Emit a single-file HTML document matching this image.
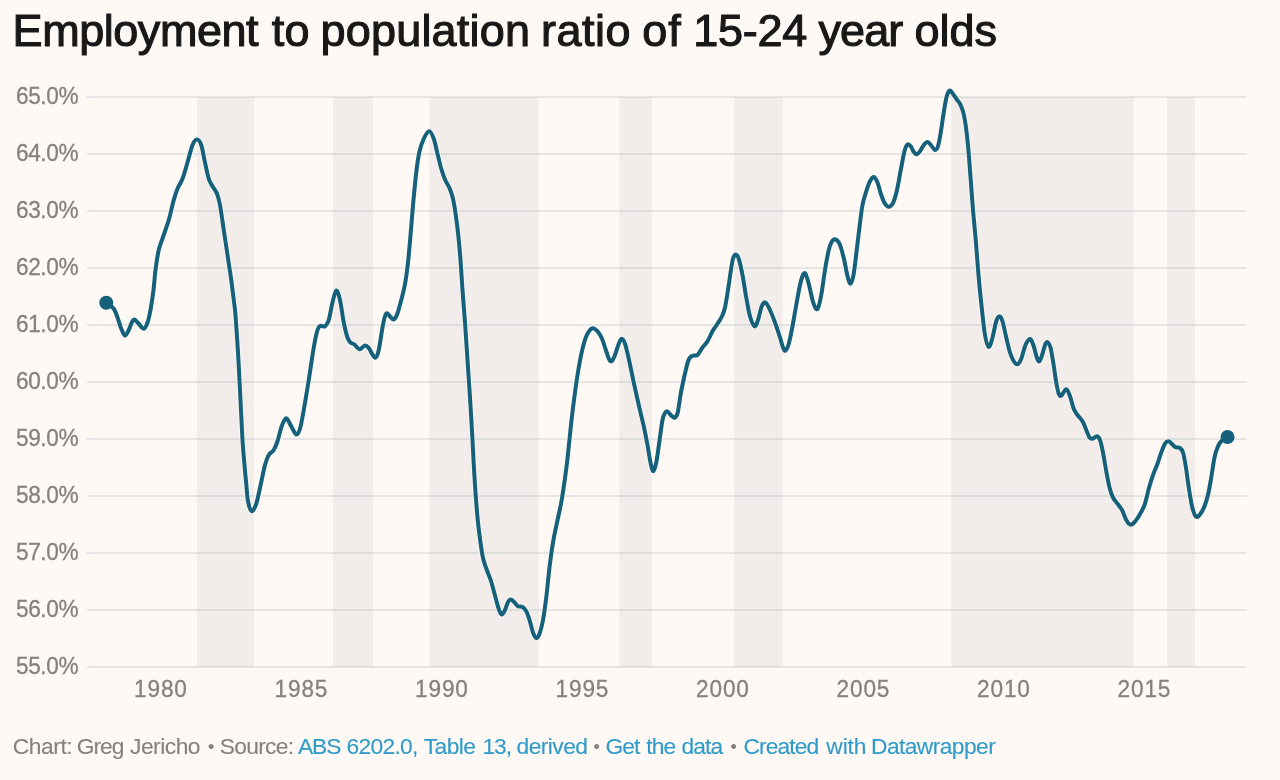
<!DOCTYPE html>
<html lang="en"><head><meta charset="utf-8"><title>Employment to population ratio of 15-24 year olds</title>
<style>
html,body{margin:0;padding:0}
body{width:1280px;height:780px;background:#fef9f5;position:relative;overflow:hidden;font-family:"Liberation Sans",sans-serif}
h1{position:absolute;left:0;top:4.6px;margin:0;font-weight:400;font-size:45.0px;line-height:52px;height:52px;width:1280px;color:#181818;-webkit-text-stroke:1.1px #181818}
h1 span,.foot span{position:absolute;top:0;white-space:pre}
.ax{font-family:"Liberation Sans",sans-serif;font-size:22.6px;fill:#848280;stroke:#848280;stroke-width:0.3px}
.foot{position:absolute;left:0;top:732.9px;margin:0;font-size:22.8px;line-height:26px;height:26px;width:1280px;color:#848280;-webkit-text-stroke:0.12px}
.foot .lk{color:#2f9bc9}
.foot .b{font-size:18px;top:1px}
</style></head><body>
<h1 id="title"><span style="left:12.60px;letter-spacing:-0.456px">Employment </span><span style="left:271.75px;letter-spacing:0.250px">to </span><span style="left:320.50px;letter-spacing:0.200px">population </span><span style="left:541.00px;letter-spacing:0.500px">ratio </span><span style="left:642.15px;letter-spacing:1.200px">of </span><span style="left:693.25px;letter-spacing:-0.250px">15-24 </span><span style="left:818.62px;letter-spacing:-1.000px">year </span><span style="left:914.50px;letter-spacing:0.000px">olds</span></h1>
<svg width="1280" height="780" viewBox="0 0 1280 780" style="position:absolute;left:0;top:0">
<rect x="197.00" y="97.00" width="57.00" height="570.00" fill="#f2edea"/>
<rect x="333.00" y="97.00" width="40.00" height="570.00" fill="#f2edea"/>
<rect x="429.25" y="97.00" width="109.50" height="570.00" fill="#f2edea"/>
<rect x="619.25" y="97.00" width="32.50" height="570.00" fill="#f2edea"/>
<rect x="734.25" y="97.00" width="48.50" height="570.00" fill="#f2edea"/>
<rect x="951.25" y="97.00" width="182.50" height="570.00" fill="#f2edea"/>
<rect x="1167.00" y="97.00" width="28.00" height="570.00" fill="#f2edea"/>
<rect x="87.00" y="96.00" width="1159.75" height="2" fill="rgba(150,170,178,0.25)"/>
<rect x="87.00" y="153.00" width="1159.75" height="2" fill="rgba(150,170,178,0.25)"/>
<rect x="87.00" y="210.00" width="1159.75" height="2" fill="rgba(150,170,178,0.25)"/>
<rect x="87.00" y="267.00" width="1159.75" height="2" fill="rgba(150,170,178,0.25)"/>
<rect x="87.00" y="324.00" width="1159.75" height="2" fill="rgba(150,170,178,0.25)"/>
<rect x="87.00" y="381.00" width="1159.75" height="2" fill="rgba(150,170,178,0.25)"/>
<rect x="87.00" y="438.00" width="1159.75" height="2" fill="rgba(150,170,178,0.25)"/>
<rect x="87.00" y="495.00" width="1159.75" height="2" fill="rgba(150,170,178,0.25)"/>
<rect x="87.00" y="552.00" width="1159.75" height="2" fill="rgba(150,170,178,0.25)"/>
<rect x="87.00" y="609.00" width="1159.75" height="2" fill="rgba(150,170,178,0.25)"/>
<rect x="87.00" y="666.00" width="1159.75" height="2" fill="rgba(150,170,178,0.25)"/>
<text transform="translate(16,104.45) scale(1,1.03)" class="ax" style="letter-spacing:-0.4px">65.0%</text>
<text transform="translate(16,161.45) scale(1,1.03)" class="ax" style="letter-spacing:-0.4px">64.0%</text>
<text transform="translate(16,218.45) scale(1,1.03)" class="ax" style="letter-spacing:-0.4px">63.0%</text>
<text transform="translate(16,275.45) scale(1,1.03)" class="ax" style="letter-spacing:-0.4px">62.0%</text>
<text transform="translate(16,332.45) scale(1,1.03)" class="ax" style="letter-spacing:-0.4px">61.0%</text>
<text transform="translate(16,389.45) scale(1,1.03)" class="ax" style="letter-spacing:-0.4px">60.0%</text>
<text transform="translate(16,446.45) scale(1,1.03)" class="ax" style="letter-spacing:-0.4px">59.0%</text>
<text transform="translate(16,503.45) scale(1,1.03)" class="ax" style="letter-spacing:-0.4px">58.0%</text>
<text transform="translate(16,560.45) scale(1,1.03)" class="ax" style="letter-spacing:-0.4px">57.0%</text>
<text transform="translate(16,617.45) scale(1,1.03)" class="ax" style="letter-spacing:-0.4px">56.0%</text>
<text transform="translate(16,674.45) scale(1,1.03)" class="ax" style="letter-spacing:-0.4px">55.0%</text>
<text transform="translate(160.90,696.9) scale(1,1.03)" class="ax" text-anchor="middle" style="letter-spacing:0.9px">1980</text>
<text transform="translate(301.40,696.9) scale(1,1.03)" class="ax" text-anchor="middle" style="letter-spacing:0.9px">1985</text>
<text transform="translate(441.90,696.9) scale(1,1.03)" class="ax" text-anchor="middle" style="letter-spacing:0.9px">1990</text>
<text transform="translate(582.40,696.9) scale(1,1.03)" class="ax" text-anchor="middle" style="letter-spacing:0.9px">1995</text>
<text transform="translate(722.90,696.9) scale(1,1.03)" class="ax" text-anchor="middle" style="letter-spacing:0.9px">2000</text>
<text transform="translate(863.40,696.9) scale(1,1.03)" class="ax" text-anchor="middle" style="letter-spacing:0.9px">2005</text>
<text transform="translate(1003.90,696.9) scale(1,1.03)" class="ax" text-anchor="middle" style="letter-spacing:0.9px">2010</text>
<text transform="translate(1144.40,696.9) scale(1,1.03)" class="ax" text-anchor="middle" style="letter-spacing:0.9px">2015</text>
<path d="M106.25,302.50C107.50,303.54 111.88,306.25 113.75,308.75C115.62,311.25 116.25,314.17 117.50,317.50C118.75,320.83 120.00,325.75 121.25,328.75C122.50,331.75 123.75,335.29 125.00,335.50C126.25,335.71 127.62,332.17 128.75,330.00C129.88,327.83 130.79,324.25 131.75,322.50C132.71,320.75 133.33,319.29 134.50,319.50C135.67,319.71 137.21,322.21 138.75,323.75C140.29,325.29 142.29,328.96 143.75,328.75C145.21,328.54 146.38,325.62 147.50,322.50C148.62,319.38 149.50,315.42 150.50,310.00C151.50,304.58 152.67,296.67 153.50,290.00C154.33,283.33 154.62,276.67 155.50,270.00C156.38,263.33 157.38,255.83 158.75,250.00C160.12,244.17 162.08,240.00 163.75,235.00C165.42,230.00 167.08,225.83 168.75,220.00C170.42,214.17 172.29,205.21 173.75,200.00C175.21,194.79 176.04,192.29 177.50,188.75C178.96,185.21 180.83,183.12 182.50,178.75C184.17,174.38 185.83,168.12 187.50,162.50C189.17,156.88 190.92,148.83 192.50,145.00C194.08,141.17 195.54,139.50 197.00,139.50C198.46,139.50 199.92,141.17 201.25,145.00C202.58,148.83 203.75,156.88 205.00,162.50C206.25,168.12 207.50,174.79 208.75,178.75C210.00,182.71 211.12,183.75 212.50,186.25C213.88,188.75 215.75,190.62 217.00,193.75C218.25,196.88 218.88,198.96 220.00,205.00C221.12,211.04 222.50,221.67 223.75,230.00C225.00,238.33 226.25,246.67 227.50,255.00C228.75,263.33 230.17,272.17 231.25,280.00C232.33,287.83 233.29,296.17 234.00,302.00C234.71,307.83 234.83,306.58 235.50,315.00C236.17,323.42 237.25,340.00 238.00,352.50C238.75,365.00 239.25,375.42 240.00,390.00C240.75,404.58 241.75,427.50 242.50,440.00C243.25,452.50 243.88,457.71 244.50,465.00C245.12,472.29 245.67,477.71 246.25,483.75C246.83,489.79 247.08,496.67 248.00,501.25C248.92,505.83 250.38,510.83 251.75,511.25C253.12,511.67 254.82,507.88 256.25,503.75C257.68,499.62 258.84,492.96 260.30,486.50C261.76,480.04 263.59,470.25 265.00,465.00C266.41,459.75 267.29,457.50 268.75,455.00C270.21,452.50 272.29,452.29 273.75,450.00C275.21,447.71 276.25,445.00 277.50,441.25C278.75,437.50 280.08,431.04 281.25,427.50C282.42,423.96 283.54,421.46 284.50,420.00C285.46,418.54 285.88,417.71 287.00,418.75C288.12,419.79 289.71,423.62 291.25,426.25C292.79,428.88 294.79,434.08 296.25,434.50C297.71,434.92 298.75,432.83 300.00,428.75C301.25,424.67 302.29,418.12 303.75,410.00C305.21,401.88 307.08,390.42 308.75,380.00C310.42,369.58 312.29,355.83 313.75,347.50C315.21,339.17 316.38,333.62 317.50,330.00C318.62,326.38 319.25,326.38 320.50,325.75C321.75,325.12 323.62,327.21 325.00,326.25C326.38,325.29 327.50,323.96 328.75,320.00C330.00,316.04 331.25,307.42 332.50,302.50C333.75,297.58 335.00,290.92 336.25,290.50C337.50,290.08 338.75,294.67 340.00,300.00C341.25,305.33 342.50,316.25 343.75,322.50C345.00,328.75 346.38,334.17 347.50,337.50C348.62,340.83 349.33,341.33 350.50,342.50C351.67,343.67 353.00,343.38 354.50,344.50C356.00,345.62 357.75,349.08 359.50,349.25C361.25,349.42 363.46,345.71 365.00,345.50C366.54,345.29 367.50,346.50 368.75,348.00C370.00,349.50 371.33,352.92 372.50,354.50C373.67,356.08 374.71,358.25 375.75,357.50C376.79,356.75 377.62,355.00 378.75,350.00C379.88,345.00 381.46,333.12 382.50,327.50C383.54,321.88 384.25,318.62 385.00,316.25C385.75,313.88 386.08,313.12 387.00,313.25C387.92,313.38 389.38,315.96 390.50,317.00C391.62,318.04 392.62,320.00 393.75,319.50C394.88,319.00 396.00,317.25 397.25,314.00C398.50,310.75 399.96,305.00 401.25,300.00C402.54,295.00 403.88,290.25 405.00,284.00C406.12,277.75 407.04,271.08 408.00,262.50C408.96,253.92 409.88,242.50 410.75,232.50C411.62,222.50 412.33,212.50 413.25,202.50C414.17,192.50 415.25,180.83 416.25,172.50C417.25,164.17 418.00,158.12 419.25,152.50C420.50,146.88 422.08,142.29 423.75,138.75C425.42,135.21 427.58,131.25 429.25,131.25C430.92,131.25 432.38,135.00 433.75,138.75C435.12,142.50 436.25,148.75 437.50,153.75C438.75,158.75 440.00,164.46 441.25,168.75C442.50,173.04 443.62,176.29 445.00,179.50C446.38,182.71 448.17,184.79 449.50,188.00C450.83,191.21 451.96,194.25 453.00,198.75C454.04,203.25 454.88,208.96 455.75,215.00C456.62,221.04 457.46,227.50 458.25,235.00C459.04,242.50 459.79,250.83 460.50,260.00C461.21,269.17 461.75,279.58 462.50,290.00C463.25,300.42 464.17,310.83 465.00,322.50C465.83,334.17 466.67,347.50 467.50,360.00C468.33,372.50 469.17,384.17 470.00,397.50C470.83,410.83 471.92,429.58 472.50,440.00C473.08,450.42 473.00,451.25 473.50,460.00C474.00,468.75 474.75,482.08 475.50,492.50C476.25,502.92 477.17,514.17 478.00,522.50C478.83,530.83 479.67,536.58 480.50,542.50C481.33,548.42 482.04,553.67 483.00,558.00C483.96,562.33 484.92,564.67 486.25,568.50C487.58,572.33 489.54,576.50 491.00,581.00C492.46,585.50 493.71,590.83 495.00,595.50C496.29,600.17 497.62,605.83 498.75,609.00C499.88,612.17 500.71,614.33 501.75,614.50C502.79,614.67 503.96,612.08 505.00,610.00C506.04,607.92 507.00,603.75 508.00,602.00C509.00,600.25 509.92,599.42 511.00,599.50C512.08,599.58 513.33,601.38 514.50,602.50C515.67,603.62 516.67,605.50 518.00,606.25C519.33,607.00 521.12,606.17 522.50,607.00C523.88,607.83 525.08,609.08 526.25,611.25C527.42,613.42 528.38,616.46 529.50,620.00C530.62,623.54 531.88,629.50 533.00,632.50C534.12,635.50 535.17,637.79 536.25,638.00C537.33,638.21 538.38,636.75 539.50,633.75C540.62,630.75 541.88,626.04 543.00,620.00C544.12,613.96 545.17,606.25 546.25,597.50C547.33,588.75 548.38,576.67 549.50,567.50C550.62,558.33 551.75,550.00 553.00,542.50C554.25,535.00 555.62,529.17 557.00,522.50C558.38,515.83 559.96,509.58 561.25,502.50C562.54,495.42 563.71,487.33 564.75,480.00C565.79,472.67 566.42,468.08 567.50,458.50C568.58,448.92 570.00,433.50 571.25,422.50C572.50,411.50 573.75,401.67 575.00,392.50C576.25,383.33 577.50,374.79 578.75,367.50C580.00,360.21 581.25,353.96 582.50,348.75C583.75,343.54 585.00,339.38 586.25,336.25C587.50,333.12 588.88,331.33 590.00,330.00C591.12,328.67 591.75,328.04 593.00,328.25C594.25,328.46 596.00,329.50 597.50,331.25C599.00,333.00 600.54,335.42 602.00,338.75C603.46,342.08 605.04,347.79 606.25,351.25C607.46,354.71 608.33,357.83 609.25,359.50C610.17,361.17 610.79,362.00 611.75,361.25C612.71,360.50 613.83,357.92 615.00,355.00C616.17,352.08 617.62,346.46 618.75,343.75C619.88,341.04 620.71,338.75 621.75,338.75C622.79,338.75 623.83,340.42 625.00,343.75C626.17,347.08 627.29,352.29 628.75,358.75C630.21,365.21 632.08,374.79 633.75,382.50C635.42,390.21 637.08,397.71 638.75,405.00C640.42,412.29 642.29,419.58 643.75,426.25C645.21,432.92 646.38,438.96 647.50,445.00C648.62,451.04 649.54,458.12 650.50,462.50C651.46,466.88 652.29,471.25 653.25,471.25C654.21,471.25 655.25,467.29 656.25,462.50C657.25,457.71 658.21,449.58 659.25,442.50C660.29,435.42 661.54,424.92 662.50,420.00C663.46,415.08 664.17,414.42 665.00,413.00C665.83,411.58 666.46,411.08 667.50,411.50C668.54,411.92 670.08,414.46 671.25,415.50C672.42,416.54 673.49,418.00 674.50,417.75C675.51,417.50 676.58,415.88 677.30,414.00C678.02,412.12 678.27,409.67 678.80,406.50C679.33,403.33 679.80,399.00 680.50,395.00C681.20,391.00 682.12,386.67 683.00,382.50C683.88,378.33 684.97,373.50 685.80,370.00C686.63,366.50 687.22,363.67 688.00,361.50C688.78,359.33 689.54,358.00 690.50,357.00C691.46,356.00 692.58,355.83 693.75,355.50C694.92,355.17 696.04,356.33 697.50,355.00C698.96,353.67 700.83,349.79 702.50,347.50C704.17,345.21 705.83,343.96 707.50,341.25C709.17,338.54 710.83,334.17 712.50,331.25C714.17,328.33 715.92,326.25 717.50,323.75C719.08,321.25 720.75,318.96 722.00,316.25C723.25,313.54 724.00,311.88 725.00,307.50C726.00,303.12 727.04,296.04 728.00,290.00C728.96,283.96 729.92,276.46 730.75,271.25C731.58,266.04 732.17,261.54 733.00,258.75C733.83,255.96 734.79,254.50 735.75,254.50C736.71,254.50 737.62,255.33 738.75,258.75C739.88,262.17 741.25,268.54 742.50,275.00C743.75,281.46 745.00,290.62 746.25,297.50C747.50,304.38 748.62,311.46 750.00,316.25C751.38,321.04 753.17,325.62 754.50,326.25C755.83,326.88 756.79,323.33 758.00,320.00C759.21,316.67 760.50,309.17 761.75,306.25C763.00,303.33 764.12,301.88 765.50,302.50C766.88,303.12 768.42,306.67 770.00,310.00C771.58,313.33 773.33,317.92 775.00,322.50C776.67,327.08 778.67,333.33 780.00,337.50C781.33,341.67 782.08,345.33 783.00,347.50C783.92,349.67 784.54,351.12 785.50,350.50C786.46,349.88 787.58,347.79 788.75,343.75C789.92,339.71 791.25,332.71 792.50,326.25C793.75,319.79 795.00,311.88 796.25,305.00C797.50,298.12 798.88,290.00 800.00,285.00C801.12,280.00 802.08,276.88 803.00,275.00C803.92,273.12 804.54,272.29 805.50,273.75C806.46,275.21 807.58,279.38 808.75,283.75C809.92,288.12 811.38,295.96 812.50,300.00C813.62,304.04 814.58,306.67 815.50,308.00C816.42,309.33 817.04,310.17 818.00,308.00C818.96,305.83 820.08,301.33 821.25,295.00C822.42,288.67 823.75,277.50 825.00,270.00C826.25,262.50 827.58,254.79 828.75,250.00C829.92,245.21 830.88,243.00 832.00,241.25C833.12,239.50 834.25,239.08 835.50,239.50C836.75,239.92 838.12,240.67 839.50,243.75C840.88,246.83 842.42,252.62 843.75,258.00C845.08,263.38 846.38,271.71 847.50,276.00C848.62,280.29 849.50,283.92 850.50,283.75C851.50,283.58 852.50,280.29 853.50,275.00C854.50,269.71 855.50,260.00 856.50,252.00C857.50,244.00 858.50,234.83 859.50,227.00C860.50,219.17 861.38,210.96 862.50,205.00C863.62,199.04 865.00,195.21 866.25,191.25C867.50,187.29 868.75,183.62 870.00,181.25C871.25,178.88 872.50,176.79 873.75,177.00C875.00,177.21 876.25,179.50 877.50,182.50C878.75,185.50 880.00,191.46 881.25,195.00C882.50,198.54 883.67,201.79 885.00,203.75C886.33,205.71 887.88,206.96 889.25,206.75C890.62,206.54 891.96,205.29 893.25,202.50C894.54,199.71 895.75,195.42 897.00,190.00C898.25,184.58 899.50,176.46 900.75,170.00C902.00,163.54 903.38,155.50 904.50,151.25C905.62,147.00 906.46,145.33 907.50,144.50C908.54,143.67 909.71,145.00 910.75,146.25C911.79,147.50 912.75,150.67 913.75,152.00C914.75,153.33 915.71,154.38 916.75,154.25C917.79,154.12 918.83,152.79 920.00,151.25C921.17,149.71 922.50,146.54 923.75,145.00C925.00,143.46 926.25,141.92 927.50,142.00C928.75,142.08 930.00,144.17 931.25,145.50C932.50,146.83 933.88,149.88 935.00,150.00C936.12,150.12 937.04,149.17 938.00,146.25C938.96,143.33 939.79,138.12 940.75,132.50C941.71,126.88 942.75,118.54 943.75,112.50C944.75,106.46 945.71,99.92 946.75,96.25C947.79,92.58 948.96,90.88 950.00,90.50C951.04,90.12 951.92,92.58 953.00,94.00C954.08,95.42 955.28,97.28 956.50,99.00C957.72,100.72 959.17,102.05 960.30,104.30C961.43,106.55 962.43,109.22 963.30,112.50C964.17,115.78 964.80,119.33 965.50,124.00C966.20,128.67 966.93,135.17 967.50,140.50C968.07,145.83 968.38,149.75 968.90,156.00C969.42,162.25 969.92,169.00 970.60,178.00C971.28,187.00 972.14,199.67 973.00,210.00C973.86,220.33 974.79,228.67 975.75,240.00C976.71,251.33 977.71,266.33 978.75,278.00C979.79,289.67 980.96,300.50 982.00,310.00C983.04,319.50 983.88,328.83 985.00,335.00C986.12,341.17 987.50,346.58 988.75,347.00C990.00,347.42 991.25,341.79 992.50,337.50C993.75,333.21 995.08,324.79 996.25,321.25C997.42,317.71 998.46,316.25 999.50,316.25C1000.54,316.25 1001.38,317.71 1002.50,321.25C1003.62,324.79 1005.00,332.29 1006.25,337.50C1007.50,342.71 1008.75,348.54 1010.00,352.50C1011.25,356.46 1012.50,359.29 1013.75,361.25C1015.00,363.21 1016.25,364.67 1017.50,364.25C1018.75,363.83 1020.00,361.75 1021.25,358.75C1022.50,355.75 1023.88,349.29 1025.00,346.25C1026.12,343.21 1027.04,341.62 1028.00,340.50C1028.96,339.38 1029.79,338.54 1030.75,339.50C1031.71,340.46 1032.71,343.17 1033.75,346.25C1034.79,349.33 1036.04,355.50 1037.00,358.00C1037.96,360.50 1038.58,361.96 1039.50,361.25C1040.42,360.54 1041.50,356.67 1042.50,353.75C1043.50,350.83 1044.58,345.62 1045.50,343.75C1046.42,341.88 1047.17,341.88 1048.00,342.50C1048.83,343.12 1049.62,344.17 1050.50,347.50C1051.38,350.83 1052.29,356.67 1053.25,362.50C1054.21,368.33 1055.33,377.29 1056.25,382.50C1057.17,387.71 1057.92,391.54 1058.75,393.75C1059.58,395.96 1060.33,396.17 1061.25,395.75C1062.17,395.33 1063.33,392.29 1064.25,391.25C1065.17,390.21 1065.79,388.67 1066.75,389.50C1067.71,390.33 1068.83,393.04 1070.00,396.25C1071.17,399.46 1072.50,405.62 1073.75,408.75C1075.00,411.88 1076.04,412.92 1077.50,415.00C1078.96,417.08 1081.04,418.75 1082.50,421.25C1083.96,423.75 1085.08,427.29 1086.25,430.00C1087.42,432.71 1088.46,436.04 1089.50,437.50C1090.54,438.96 1091.25,438.96 1092.50,438.75C1093.75,438.54 1095.75,436.04 1097.00,436.25C1098.25,436.46 1099.00,437.29 1100.00,440.00C1101.00,442.71 1101.96,447.29 1103.00,452.50C1104.04,457.71 1105.17,465.42 1106.25,471.25C1107.33,477.08 1108.38,483.12 1109.50,487.50C1110.62,491.88 1111.67,494.79 1113.00,497.50C1114.33,500.21 1116.00,501.67 1117.50,503.75C1119.00,505.83 1120.54,507.29 1122.00,510.00C1123.46,512.71 1124.92,517.58 1126.25,520.00C1127.58,522.42 1128.75,524.00 1130.00,524.50C1131.25,525.00 1132.29,524.38 1133.75,523.00C1135.21,521.62 1136.96,519.25 1138.75,516.25C1140.54,513.25 1142.83,509.58 1144.50,505.00C1146.17,500.42 1147.33,493.75 1148.75,488.75C1150.17,483.75 1151.54,479.17 1153.00,475.00C1154.46,470.83 1156.12,467.50 1157.50,463.75C1158.88,460.00 1160.00,455.84 1161.25,452.50C1162.50,449.16 1163.79,445.57 1165.00,443.70C1166.21,441.83 1167.33,441.25 1168.50,441.30C1169.67,441.35 1170.83,443.00 1172.00,444.00C1173.17,445.00 1174.17,446.63 1175.50,447.30C1176.83,447.97 1178.75,447.13 1180.00,448.00C1181.25,448.87 1182.04,449.46 1183.00,452.50C1183.96,455.54 1184.79,460.42 1185.75,466.25C1186.71,472.08 1187.71,480.83 1188.75,487.50C1189.79,494.17 1190.96,501.58 1192.00,506.25C1193.04,510.92 1194.17,513.71 1195.00,515.50C1195.83,517.29 1196.08,517.29 1197.00,517.00C1197.92,516.71 1199.25,515.54 1200.50,513.75C1201.75,511.96 1203.21,509.58 1204.50,506.25C1205.79,502.92 1207.12,498.54 1208.25,493.75C1209.38,488.96 1210.21,483.54 1211.25,477.50C1212.29,471.46 1213.46,462.50 1214.50,457.50C1215.54,452.50 1216.38,450.21 1217.50,447.50C1218.62,444.79 1219.58,443.00 1221.25,441.25C1222.92,439.50 1226.46,437.71 1227.50,437.00" fill="none" stroke="#fef9f5" stroke-width="5.6" stroke-linejoin="round" stroke-linecap="round" opacity="0.85"/>
<path d="M106.25,302.50C107.50,303.54 111.88,306.25 113.75,308.75C115.62,311.25 116.25,314.17 117.50,317.50C118.75,320.83 120.00,325.75 121.25,328.75C122.50,331.75 123.75,335.29 125.00,335.50C126.25,335.71 127.62,332.17 128.75,330.00C129.88,327.83 130.79,324.25 131.75,322.50C132.71,320.75 133.33,319.29 134.50,319.50C135.67,319.71 137.21,322.21 138.75,323.75C140.29,325.29 142.29,328.96 143.75,328.75C145.21,328.54 146.38,325.62 147.50,322.50C148.62,319.38 149.50,315.42 150.50,310.00C151.50,304.58 152.67,296.67 153.50,290.00C154.33,283.33 154.62,276.67 155.50,270.00C156.38,263.33 157.38,255.83 158.75,250.00C160.12,244.17 162.08,240.00 163.75,235.00C165.42,230.00 167.08,225.83 168.75,220.00C170.42,214.17 172.29,205.21 173.75,200.00C175.21,194.79 176.04,192.29 177.50,188.75C178.96,185.21 180.83,183.12 182.50,178.75C184.17,174.38 185.83,168.12 187.50,162.50C189.17,156.88 190.92,148.83 192.50,145.00C194.08,141.17 195.54,139.50 197.00,139.50C198.46,139.50 199.92,141.17 201.25,145.00C202.58,148.83 203.75,156.88 205.00,162.50C206.25,168.12 207.50,174.79 208.75,178.75C210.00,182.71 211.12,183.75 212.50,186.25C213.88,188.75 215.75,190.62 217.00,193.75C218.25,196.88 218.88,198.96 220.00,205.00C221.12,211.04 222.50,221.67 223.75,230.00C225.00,238.33 226.25,246.67 227.50,255.00C228.75,263.33 230.17,272.17 231.25,280.00C232.33,287.83 233.29,296.17 234.00,302.00C234.71,307.83 234.83,306.58 235.50,315.00C236.17,323.42 237.25,340.00 238.00,352.50C238.75,365.00 239.25,375.42 240.00,390.00C240.75,404.58 241.75,427.50 242.50,440.00C243.25,452.50 243.88,457.71 244.50,465.00C245.12,472.29 245.67,477.71 246.25,483.75C246.83,489.79 247.08,496.67 248.00,501.25C248.92,505.83 250.38,510.83 251.75,511.25C253.12,511.67 254.82,507.88 256.25,503.75C257.68,499.62 258.84,492.96 260.30,486.50C261.76,480.04 263.59,470.25 265.00,465.00C266.41,459.75 267.29,457.50 268.75,455.00C270.21,452.50 272.29,452.29 273.75,450.00C275.21,447.71 276.25,445.00 277.50,441.25C278.75,437.50 280.08,431.04 281.25,427.50C282.42,423.96 283.54,421.46 284.50,420.00C285.46,418.54 285.88,417.71 287.00,418.75C288.12,419.79 289.71,423.62 291.25,426.25C292.79,428.88 294.79,434.08 296.25,434.50C297.71,434.92 298.75,432.83 300.00,428.75C301.25,424.67 302.29,418.12 303.75,410.00C305.21,401.88 307.08,390.42 308.75,380.00C310.42,369.58 312.29,355.83 313.75,347.50C315.21,339.17 316.38,333.62 317.50,330.00C318.62,326.38 319.25,326.38 320.50,325.75C321.75,325.12 323.62,327.21 325.00,326.25C326.38,325.29 327.50,323.96 328.75,320.00C330.00,316.04 331.25,307.42 332.50,302.50C333.75,297.58 335.00,290.92 336.25,290.50C337.50,290.08 338.75,294.67 340.00,300.00C341.25,305.33 342.50,316.25 343.75,322.50C345.00,328.75 346.38,334.17 347.50,337.50C348.62,340.83 349.33,341.33 350.50,342.50C351.67,343.67 353.00,343.38 354.50,344.50C356.00,345.62 357.75,349.08 359.50,349.25C361.25,349.42 363.46,345.71 365.00,345.50C366.54,345.29 367.50,346.50 368.75,348.00C370.00,349.50 371.33,352.92 372.50,354.50C373.67,356.08 374.71,358.25 375.75,357.50C376.79,356.75 377.62,355.00 378.75,350.00C379.88,345.00 381.46,333.12 382.50,327.50C383.54,321.88 384.25,318.62 385.00,316.25C385.75,313.88 386.08,313.12 387.00,313.25C387.92,313.38 389.38,315.96 390.50,317.00C391.62,318.04 392.62,320.00 393.75,319.50C394.88,319.00 396.00,317.25 397.25,314.00C398.50,310.75 399.96,305.00 401.25,300.00C402.54,295.00 403.88,290.25 405.00,284.00C406.12,277.75 407.04,271.08 408.00,262.50C408.96,253.92 409.88,242.50 410.75,232.50C411.62,222.50 412.33,212.50 413.25,202.50C414.17,192.50 415.25,180.83 416.25,172.50C417.25,164.17 418.00,158.12 419.25,152.50C420.50,146.88 422.08,142.29 423.75,138.75C425.42,135.21 427.58,131.25 429.25,131.25C430.92,131.25 432.38,135.00 433.75,138.75C435.12,142.50 436.25,148.75 437.50,153.75C438.75,158.75 440.00,164.46 441.25,168.75C442.50,173.04 443.62,176.29 445.00,179.50C446.38,182.71 448.17,184.79 449.50,188.00C450.83,191.21 451.96,194.25 453.00,198.75C454.04,203.25 454.88,208.96 455.75,215.00C456.62,221.04 457.46,227.50 458.25,235.00C459.04,242.50 459.79,250.83 460.50,260.00C461.21,269.17 461.75,279.58 462.50,290.00C463.25,300.42 464.17,310.83 465.00,322.50C465.83,334.17 466.67,347.50 467.50,360.00C468.33,372.50 469.17,384.17 470.00,397.50C470.83,410.83 471.92,429.58 472.50,440.00C473.08,450.42 473.00,451.25 473.50,460.00C474.00,468.75 474.75,482.08 475.50,492.50C476.25,502.92 477.17,514.17 478.00,522.50C478.83,530.83 479.67,536.58 480.50,542.50C481.33,548.42 482.04,553.67 483.00,558.00C483.96,562.33 484.92,564.67 486.25,568.50C487.58,572.33 489.54,576.50 491.00,581.00C492.46,585.50 493.71,590.83 495.00,595.50C496.29,600.17 497.62,605.83 498.75,609.00C499.88,612.17 500.71,614.33 501.75,614.50C502.79,614.67 503.96,612.08 505.00,610.00C506.04,607.92 507.00,603.75 508.00,602.00C509.00,600.25 509.92,599.42 511.00,599.50C512.08,599.58 513.33,601.38 514.50,602.50C515.67,603.62 516.67,605.50 518.00,606.25C519.33,607.00 521.12,606.17 522.50,607.00C523.88,607.83 525.08,609.08 526.25,611.25C527.42,613.42 528.38,616.46 529.50,620.00C530.62,623.54 531.88,629.50 533.00,632.50C534.12,635.50 535.17,637.79 536.25,638.00C537.33,638.21 538.38,636.75 539.50,633.75C540.62,630.75 541.88,626.04 543.00,620.00C544.12,613.96 545.17,606.25 546.25,597.50C547.33,588.75 548.38,576.67 549.50,567.50C550.62,558.33 551.75,550.00 553.00,542.50C554.25,535.00 555.62,529.17 557.00,522.50C558.38,515.83 559.96,509.58 561.25,502.50C562.54,495.42 563.71,487.33 564.75,480.00C565.79,472.67 566.42,468.08 567.50,458.50C568.58,448.92 570.00,433.50 571.25,422.50C572.50,411.50 573.75,401.67 575.00,392.50C576.25,383.33 577.50,374.79 578.75,367.50C580.00,360.21 581.25,353.96 582.50,348.75C583.75,343.54 585.00,339.38 586.25,336.25C587.50,333.12 588.88,331.33 590.00,330.00C591.12,328.67 591.75,328.04 593.00,328.25C594.25,328.46 596.00,329.50 597.50,331.25C599.00,333.00 600.54,335.42 602.00,338.75C603.46,342.08 605.04,347.79 606.25,351.25C607.46,354.71 608.33,357.83 609.25,359.50C610.17,361.17 610.79,362.00 611.75,361.25C612.71,360.50 613.83,357.92 615.00,355.00C616.17,352.08 617.62,346.46 618.75,343.75C619.88,341.04 620.71,338.75 621.75,338.75C622.79,338.75 623.83,340.42 625.00,343.75C626.17,347.08 627.29,352.29 628.75,358.75C630.21,365.21 632.08,374.79 633.75,382.50C635.42,390.21 637.08,397.71 638.75,405.00C640.42,412.29 642.29,419.58 643.75,426.25C645.21,432.92 646.38,438.96 647.50,445.00C648.62,451.04 649.54,458.12 650.50,462.50C651.46,466.88 652.29,471.25 653.25,471.25C654.21,471.25 655.25,467.29 656.25,462.50C657.25,457.71 658.21,449.58 659.25,442.50C660.29,435.42 661.54,424.92 662.50,420.00C663.46,415.08 664.17,414.42 665.00,413.00C665.83,411.58 666.46,411.08 667.50,411.50C668.54,411.92 670.08,414.46 671.25,415.50C672.42,416.54 673.49,418.00 674.50,417.75C675.51,417.50 676.58,415.88 677.30,414.00C678.02,412.12 678.27,409.67 678.80,406.50C679.33,403.33 679.80,399.00 680.50,395.00C681.20,391.00 682.12,386.67 683.00,382.50C683.88,378.33 684.97,373.50 685.80,370.00C686.63,366.50 687.22,363.67 688.00,361.50C688.78,359.33 689.54,358.00 690.50,357.00C691.46,356.00 692.58,355.83 693.75,355.50C694.92,355.17 696.04,356.33 697.50,355.00C698.96,353.67 700.83,349.79 702.50,347.50C704.17,345.21 705.83,343.96 707.50,341.25C709.17,338.54 710.83,334.17 712.50,331.25C714.17,328.33 715.92,326.25 717.50,323.75C719.08,321.25 720.75,318.96 722.00,316.25C723.25,313.54 724.00,311.88 725.00,307.50C726.00,303.12 727.04,296.04 728.00,290.00C728.96,283.96 729.92,276.46 730.75,271.25C731.58,266.04 732.17,261.54 733.00,258.75C733.83,255.96 734.79,254.50 735.75,254.50C736.71,254.50 737.62,255.33 738.75,258.75C739.88,262.17 741.25,268.54 742.50,275.00C743.75,281.46 745.00,290.62 746.25,297.50C747.50,304.38 748.62,311.46 750.00,316.25C751.38,321.04 753.17,325.62 754.50,326.25C755.83,326.88 756.79,323.33 758.00,320.00C759.21,316.67 760.50,309.17 761.75,306.25C763.00,303.33 764.12,301.88 765.50,302.50C766.88,303.12 768.42,306.67 770.00,310.00C771.58,313.33 773.33,317.92 775.00,322.50C776.67,327.08 778.67,333.33 780.00,337.50C781.33,341.67 782.08,345.33 783.00,347.50C783.92,349.67 784.54,351.12 785.50,350.50C786.46,349.88 787.58,347.79 788.75,343.75C789.92,339.71 791.25,332.71 792.50,326.25C793.75,319.79 795.00,311.88 796.25,305.00C797.50,298.12 798.88,290.00 800.00,285.00C801.12,280.00 802.08,276.88 803.00,275.00C803.92,273.12 804.54,272.29 805.50,273.75C806.46,275.21 807.58,279.38 808.75,283.75C809.92,288.12 811.38,295.96 812.50,300.00C813.62,304.04 814.58,306.67 815.50,308.00C816.42,309.33 817.04,310.17 818.00,308.00C818.96,305.83 820.08,301.33 821.25,295.00C822.42,288.67 823.75,277.50 825.00,270.00C826.25,262.50 827.58,254.79 828.75,250.00C829.92,245.21 830.88,243.00 832.00,241.25C833.12,239.50 834.25,239.08 835.50,239.50C836.75,239.92 838.12,240.67 839.50,243.75C840.88,246.83 842.42,252.62 843.75,258.00C845.08,263.38 846.38,271.71 847.50,276.00C848.62,280.29 849.50,283.92 850.50,283.75C851.50,283.58 852.50,280.29 853.50,275.00C854.50,269.71 855.50,260.00 856.50,252.00C857.50,244.00 858.50,234.83 859.50,227.00C860.50,219.17 861.38,210.96 862.50,205.00C863.62,199.04 865.00,195.21 866.25,191.25C867.50,187.29 868.75,183.62 870.00,181.25C871.25,178.88 872.50,176.79 873.75,177.00C875.00,177.21 876.25,179.50 877.50,182.50C878.75,185.50 880.00,191.46 881.25,195.00C882.50,198.54 883.67,201.79 885.00,203.75C886.33,205.71 887.88,206.96 889.25,206.75C890.62,206.54 891.96,205.29 893.25,202.50C894.54,199.71 895.75,195.42 897.00,190.00C898.25,184.58 899.50,176.46 900.75,170.00C902.00,163.54 903.38,155.50 904.50,151.25C905.62,147.00 906.46,145.33 907.50,144.50C908.54,143.67 909.71,145.00 910.75,146.25C911.79,147.50 912.75,150.67 913.75,152.00C914.75,153.33 915.71,154.38 916.75,154.25C917.79,154.12 918.83,152.79 920.00,151.25C921.17,149.71 922.50,146.54 923.75,145.00C925.00,143.46 926.25,141.92 927.50,142.00C928.75,142.08 930.00,144.17 931.25,145.50C932.50,146.83 933.88,149.88 935.00,150.00C936.12,150.12 937.04,149.17 938.00,146.25C938.96,143.33 939.79,138.12 940.75,132.50C941.71,126.88 942.75,118.54 943.75,112.50C944.75,106.46 945.71,99.92 946.75,96.25C947.79,92.58 948.96,90.88 950.00,90.50C951.04,90.12 951.92,92.58 953.00,94.00C954.08,95.42 955.28,97.28 956.50,99.00C957.72,100.72 959.17,102.05 960.30,104.30C961.43,106.55 962.43,109.22 963.30,112.50C964.17,115.78 964.80,119.33 965.50,124.00C966.20,128.67 966.93,135.17 967.50,140.50C968.07,145.83 968.38,149.75 968.90,156.00C969.42,162.25 969.92,169.00 970.60,178.00C971.28,187.00 972.14,199.67 973.00,210.00C973.86,220.33 974.79,228.67 975.75,240.00C976.71,251.33 977.71,266.33 978.75,278.00C979.79,289.67 980.96,300.50 982.00,310.00C983.04,319.50 983.88,328.83 985.00,335.00C986.12,341.17 987.50,346.58 988.75,347.00C990.00,347.42 991.25,341.79 992.50,337.50C993.75,333.21 995.08,324.79 996.25,321.25C997.42,317.71 998.46,316.25 999.50,316.25C1000.54,316.25 1001.38,317.71 1002.50,321.25C1003.62,324.79 1005.00,332.29 1006.25,337.50C1007.50,342.71 1008.75,348.54 1010.00,352.50C1011.25,356.46 1012.50,359.29 1013.75,361.25C1015.00,363.21 1016.25,364.67 1017.50,364.25C1018.75,363.83 1020.00,361.75 1021.25,358.75C1022.50,355.75 1023.88,349.29 1025.00,346.25C1026.12,343.21 1027.04,341.62 1028.00,340.50C1028.96,339.38 1029.79,338.54 1030.75,339.50C1031.71,340.46 1032.71,343.17 1033.75,346.25C1034.79,349.33 1036.04,355.50 1037.00,358.00C1037.96,360.50 1038.58,361.96 1039.50,361.25C1040.42,360.54 1041.50,356.67 1042.50,353.75C1043.50,350.83 1044.58,345.62 1045.50,343.75C1046.42,341.88 1047.17,341.88 1048.00,342.50C1048.83,343.12 1049.62,344.17 1050.50,347.50C1051.38,350.83 1052.29,356.67 1053.25,362.50C1054.21,368.33 1055.33,377.29 1056.25,382.50C1057.17,387.71 1057.92,391.54 1058.75,393.75C1059.58,395.96 1060.33,396.17 1061.25,395.75C1062.17,395.33 1063.33,392.29 1064.25,391.25C1065.17,390.21 1065.79,388.67 1066.75,389.50C1067.71,390.33 1068.83,393.04 1070.00,396.25C1071.17,399.46 1072.50,405.62 1073.75,408.75C1075.00,411.88 1076.04,412.92 1077.50,415.00C1078.96,417.08 1081.04,418.75 1082.50,421.25C1083.96,423.75 1085.08,427.29 1086.25,430.00C1087.42,432.71 1088.46,436.04 1089.50,437.50C1090.54,438.96 1091.25,438.96 1092.50,438.75C1093.75,438.54 1095.75,436.04 1097.00,436.25C1098.25,436.46 1099.00,437.29 1100.00,440.00C1101.00,442.71 1101.96,447.29 1103.00,452.50C1104.04,457.71 1105.17,465.42 1106.25,471.25C1107.33,477.08 1108.38,483.12 1109.50,487.50C1110.62,491.88 1111.67,494.79 1113.00,497.50C1114.33,500.21 1116.00,501.67 1117.50,503.75C1119.00,505.83 1120.54,507.29 1122.00,510.00C1123.46,512.71 1124.92,517.58 1126.25,520.00C1127.58,522.42 1128.75,524.00 1130.00,524.50C1131.25,525.00 1132.29,524.38 1133.75,523.00C1135.21,521.62 1136.96,519.25 1138.75,516.25C1140.54,513.25 1142.83,509.58 1144.50,505.00C1146.17,500.42 1147.33,493.75 1148.75,488.75C1150.17,483.75 1151.54,479.17 1153.00,475.00C1154.46,470.83 1156.12,467.50 1157.50,463.75C1158.88,460.00 1160.00,455.84 1161.25,452.50C1162.50,449.16 1163.79,445.57 1165.00,443.70C1166.21,441.83 1167.33,441.25 1168.50,441.30C1169.67,441.35 1170.83,443.00 1172.00,444.00C1173.17,445.00 1174.17,446.63 1175.50,447.30C1176.83,447.97 1178.75,447.13 1180.00,448.00C1181.25,448.87 1182.04,449.46 1183.00,452.50C1183.96,455.54 1184.79,460.42 1185.75,466.25C1186.71,472.08 1187.71,480.83 1188.75,487.50C1189.79,494.17 1190.96,501.58 1192.00,506.25C1193.04,510.92 1194.17,513.71 1195.00,515.50C1195.83,517.29 1196.08,517.29 1197.00,517.00C1197.92,516.71 1199.25,515.54 1200.50,513.75C1201.75,511.96 1203.21,509.58 1204.50,506.25C1205.79,502.92 1207.12,498.54 1208.25,493.75C1209.38,488.96 1210.21,483.54 1211.25,477.50C1212.29,471.46 1213.46,462.50 1214.50,457.50C1215.54,452.50 1216.38,450.21 1217.50,447.50C1218.62,444.79 1219.58,443.00 1221.25,441.25C1222.92,439.50 1226.46,437.71 1227.50,437.00" fill="none" stroke="#15607a" stroke-width="4" stroke-linejoin="round" stroke-linecap="round"/>
<circle cx="106.25" cy="302.80" r="7" fill="#15607a"/>
<circle cx="1227.50" cy="437.00" r="7" fill="#15607a"/>
</svg>
<p class="foot" id="foot"><span style="left:12.75px;letter-spacing:-0.430px">Chart: </span><span style="left:76.80px;letter-spacing:-1.000px">Greg </span><span style="left:130.00px;letter-spacing:-0.500px">Jericho </span><span class="b" style="left:208.10px;letter-spacing:0.000px">&bull; </span><span style="left:219.75px;letter-spacing:-0.708px">Source: </span><span class="lk" style="left:297.88px;letter-spacing:-1.000px">ABS </span><span class="lk" style="left:346.50px;letter-spacing:-0.708px">6202.0, </span><span class="lk" style="left:423.75px;letter-spacing:-0.562px">Table </span><span class="lk" style="left:482.38px;letter-spacing:-1.000px">13, </span><span class="lk" style="left:516.50px;letter-spacing:-0.542px">derived </span><span class="b" style="left:593.60px;letter-spacing:0.000px">&bull; </span><span class="lk" style="left:605.50px;letter-spacing:-1.000px">Get </span><span class="lk" style="left:646.25px;letter-spacing:-0.875px">the </span><span class="lk" style="left:681.50px;letter-spacing:-0.917px">data </span><span class="b" style="left:730.60px;letter-spacing:0.000px">&bull; </span><span class="lk" style="left:743.50px;letter-spacing:-0.917px">Created </span><span class="lk" style="left:826.25px;letter-spacing:-0.083px">with </span><span class="lk" style="left:871.00px;letter-spacing:-0.575px">Datawrapper</span></p>
</body></html>
